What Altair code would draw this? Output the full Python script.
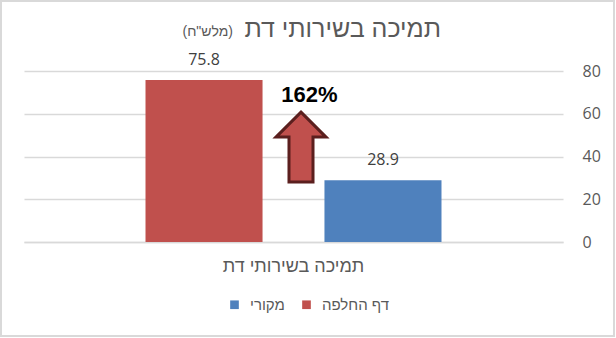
import altair as alt
import pandas as pd

categories = ["תמיכה בשירותי דת"]
series = ["דף החלפה", "מקורי"]
values = [75.8, 28.9]
series_colors = ["#C0504D", "#4F81BD"]
legend_order = ["מקורי", "דף החלפה"]
y_ticks = [0, 20, 40, 60, 80]
change_label = "162%"
arrow_value = 44.4
change_label_value = 68.7
title_main = "תמיכה בשירותי דת"
title_unit = '(מלש"ח)'

HEB = "Liberation Sans"
NUM = "Open Sans"
GRAY = "#595959"

df = pd.DataFrame({
    "category": [categories[0]] * len(series),
    "series": series,
    "value": values,
})
ann = pd.DataFrame({"category": categories, "arrow": [arrow_value],
                    "lab": [change_label_value], "text": [change_label]})

x_enc = alt.X("category:N", title=None,
              scale=alt.Scale(paddingInner=0, paddingOuter=0.4105),
              axis=alt.Axis(labelFont=HEB, labelFontSize=18, labelColor=GRAY,
                            ticks=False, domainColor="#D9D9D9", domainWidth=1.5,
                            labelPadding=15, labelAngle=0))
y_scale = alt.Scale(domain=[0, 80])

color = alt.Color("series:N",
                  scale=alt.Scale(domain=series, range=series_colors),
                  sort=legend_order,
                  legend=alt.Legend(orient="none", direction="horizontal", title=None,
                                    legendX=203, legendY=226,
                                    values=legend_order,
                                    symbolType="square", symbolSize=75,
                                    symbolStrokeWidth=0,
                                    labelFont=HEB, labelFontSize=15, labelColor=GRAY,
                                    labelOffset=8, columnPadding=14))

bars = alt.Chart(df).mark_bar().encode(
    x=x_enc,
    xOffset=alt.XOffset("series:N", sort=series,
                        scale=alt.Scale(paddingInner=0.346, paddingOuter=0)),
    y=alt.Y("value:Q", scale=y_scale, title=None,
            axis=alt.Axis(orient="right", values=y_ticks, ticks=False, domain=False,
                          labelAlign="left", labelPadding=19, labelFont=NUM,
                          labelFontSize=16, labelColor=GRAY,
                          gridColor="#D9D9D9", gridWidth=1.5)),
    color=color,
)

labels = alt.Chart(df).mark_text(baseline="bottom", dy=-12, font=NUM, fontSize=16,
                                 color="#404040").encode(
    x=alt.X("category:N"),
    xOffset=alt.XOffset("series:N", sort=series),
    y=alt.Y("value:Q", scale=y_scale),
    text=alt.Text("value:Q", format=".1f"),
)

arrow_path = ("M0,-1 L0.714,-0.286 L0.343,-0.286 L0.343,1 "
              "L-0.343,1 L-0.343,-0.286 L-0.714,-0.286 Z")
arrow = alt.Chart(ann).mark_point(shape=arrow_path, size=4900, filled=True,
                                  fill="#C0504D", stroke="#5B1F1E", strokeWidth=3,
                                  opacity=1, xOffset=7.5).encode(
    x=alt.X("category:N"),
    y=alt.Y("arrow:Q", scale=y_scale),
)
arrow_text = alt.Chart(ann).mark_text(font="Liberation Sans", fontSize=22, fontWeight="bold",
                                      color="#000000", baseline="middle",
                                      xOffset=16).encode(
    x=alt.X("category:N"),
    y=alt.Y("lab:Q", scale=y_scale),
    text="text:N",
)

title_a = alt.Chart(ann).mark_text(font=HEB, fontSize=25, color=GRAY,
                                   baseline="alphabetic", align="right").encode(
    x=alt.value(417), y=alt.value(-34), text=alt.value(title_main))
title_b = alt.Chart(ann).mark_text(font=HEB, fontSize=14, color=GRAY,
                                   baseline="alphabetic", align="right").encode(
    x=alt.value(209), y=alt.value(-35), text=alt.value(title_unit))

border = alt.Chart(ann).mark_rect(fill=None, stroke="#D9D9D9", strokeWidth=2,
                                  clip=False).encode(
    x=alt.value(-23), x2=alt.value(590), y=alt.value(-70), y2=alt.value(265))

chart = alt.layer(border, bars, labels, arrow, arrow_text, title_a, title_b).properties(
    width=539, height=171,
    autosize=alt.AutoSizeParams(type="none"),
    padding={"left": 24, "top": 71, "right": 53, "bottom": 96},
    background="white",
).configure_view(stroke=None)

chart.save("out.html", embed_options={"renderer": "svg", "actions": False})
